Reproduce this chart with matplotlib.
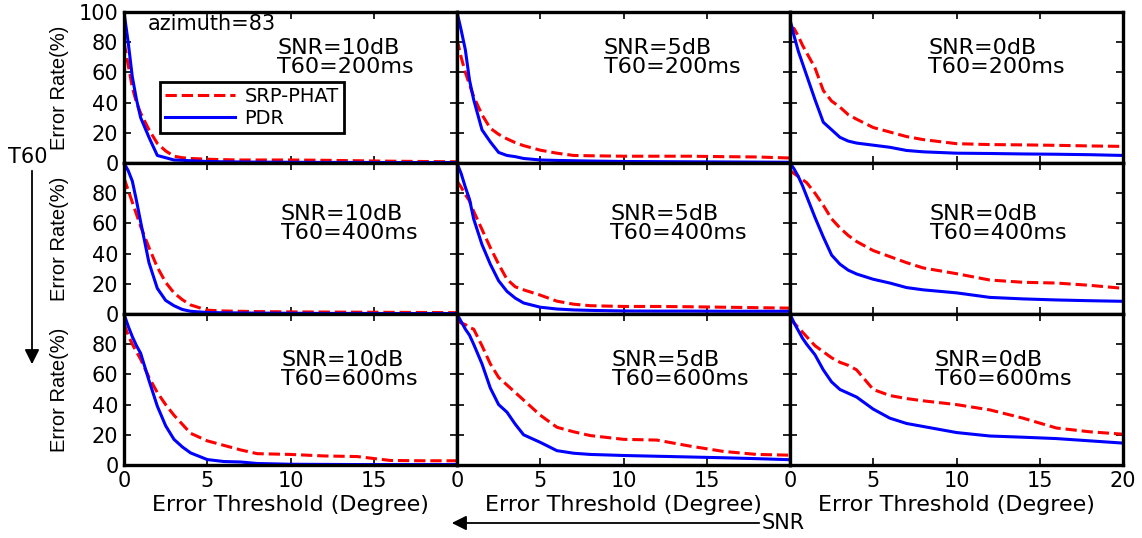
import matplotlib
matplotlib.use('Agg')
import matplotlib.pyplot as plt

# error threshold (degree), common grid for all curves
threshold = [0, 0.25, 0.5, 0.75, 1, 1.5, 2, 2.5, 3, 3.5, 4, 5, 6, 7, 8, 10, 12, 14, 16, 18, 20]

snr_labels = ['10dB', '5dB', '0dB']
t60_labels = ['200ms', '400ms', '600ms']

# T60 = 200ms
pdr_200 = [
    [100, 80, 57, 42, 30, 17, 5, 3.5, 2, 1.8, 1.5, 1, 0.8, 0.7, 0.6, 0.5, 0.4, 0.4, 0.3, 0.3, 0.3],
    [100, 88, 75, 55, 42, 22, 14, 7, 5, 4.2, 3, 2, 1.7, 1.5, 1.3, 1, 0.9, 0.8, 0.7, 0.6, 0.5],
    [95, 84, 74, 66, 58, 42, 27, 22, 17, 14.5, 13.2, 11.8, 10.4, 8.3, 7.4, 6.5, 6.3, 6, 5.8, 5.5, 5],
]
srp_200 = [
    [80, 65, 50, 40, 33, 22, 13, 8, 4.5, 3.5, 3, 2.5, 2.2, 2, 2, 2, 1.8, 1.5, 1.2, 1, 0.8],
    [82, 70, 60, 52, 44, 32, 23, 19, 16, 13.5, 11.5, 8.5, 6.5, 5, 4.8, 4.5, 4.5, 4.5, 4.2, 4, 3.3],
    [90, 89, 84, 78, 73, 63, 48, 41, 37, 32, 29, 23.5, 20.5, 17.5, 15.5, 12.8, 12.2, 12, 11.7, 11.3, 11],
]
# T60 = 400ms
pdr_400 = [
    [100, 95, 88, 75, 61, 34, 17, 9, 5.5, 3, 1.8, 1, 0.8, 0.7, 0.6, 0.5, 0.4, 0.4, 0.3, 0.3, 0.3],
    [100, 93, 84, 76, 63, 46, 33, 22, 15, 10.5, 7.3, 4.5, 3.3, 2.7, 2.4, 2, 1.9, 1.9, 1.8, 1.8, 1.8],
    [100, 96, 91, 85, 78, 64, 51, 39, 33, 29, 26.5, 23, 20.5, 17.5, 16, 14, 11, 10, 9.3, 8.8, 8.4],
]
srp_400 = [
    [90, 82, 74, 66, 58, 44, 31, 21, 14, 9.5, 6, 2.5, 2, 1.8, 1.6, 1.4, 1.3, 1.2, 1.1, 1, 0.9],
    [88, 84, 79, 75, 68, 56, 44, 33, 23, 18, 16, 12.5, 8.5, 6.5, 5.5, 5, 5, 4.8, 4.5, 4.2, 3.9],
    [95, 93, 91, 89, 87, 80, 72, 63, 57, 52, 48, 42, 38, 34, 30.5, 26.7, 22.5, 21, 20.5, 19, 17],
]
# T60 = 600ms
pdr_600 = [
    [100, 92, 85, 79, 74, 56, 39, 26, 17, 12, 8, 3.6, 2.3, 2, 1, 0.5, 0.4, 0.3, 0.3, 0.3, 0.3],
    [100, 95, 90, 86, 80, 67, 51, 40, 35, 27, 20, 15, 9.5, 7.8, 7, 6.3, 5.8, 5.3, 4.8, 4.2, 3.5],
    [100, 94, 89, 84, 80, 73, 63, 55, 50, 47.5, 45, 37, 31, 27.5, 25.5, 21.5, 19.2, 18.4, 17.5, 16, 14.5],
]
srp_600 = [
    [93.5, 86, 80, 75, 70, 58, 48, 40, 33, 27, 21, 16, 13, 10, 7.5, 7, 6, 5.6, 3, 2.8, 2.8],
    [95.7, 94, 93, 91, 90, 79, 67, 58, 53, 48, 43, 33, 25, 22, 19.5, 17, 16.5, 12.5, 9, 7, 6.5],
    [96.8, 94, 91, 88, 85, 79, 75, 71, 68, 66, 63, 50, 46, 44, 42.5, 40, 36.5, 31, 24.5, 22, 20.4],
]

pdr_rows = [pdr_200, pdr_400, pdr_600]
srp_rows = [srp_200, srp_400, srp_600]

# where the condition text sits in each panel (data coords)
text_x = [[9.2, 8.8, 8.3], [9.4, 9.2, 8.4], [9.45, 9.3, 8.7]]
text_y = [70, 60, 63]

W, H = 1142, 538
plt.rcParams['font.family'] = 'DejaVu Sans'
plt.rcParams['font.size'] = 15

fig, axes = plt.subplots(3, 3, figsize=(W / 100, H / 100), dpi=100)
fig.subplots_adjust(left=124 / W, right=1123 / W, top=1 - 12 / H, bottom=1 - 465 / H,
                    wspace=0, hspace=0)

for i in range(3):
    for j in range(3):
        ax = axes[i, j]
        ax.plot(threshold, srp_rows[i][j], color='#ff0000', linestyle='--', linewidth=2.2,
                label='SRP-PHAT')
        ax.plot(threshold, pdr_rows[i][j], color='#0000ff', linewidth=2.2, label='PDR')
        ax.set_xlim(0, 20)
        ax.set_ylim(0, 100)
        for s in ax.spines.values():
            s.set_linewidth(2.4)
        ax.tick_params(direction='in', top=True, right=True, length=5, width=1.2,
                       labelsize=15, pad=4)
        ax.set_xticks([0, 5, 10, 15, 20])
        ax.set_yticks([0, 20, 40, 60, 80, 100])
        if i == 2:
            ax.set_xticklabels(['0', '5', '10', '15', '20' if j == 2 else ''])
            ax.set_xlabel('Error Threshold (Degree)', fontsize=16)
            ax.xaxis.set_label_coords(0.5, -0.2)
        else:
            ax.set_xticklabels([])
        if j == 0:
            ax.set_yticklabels(['0', '20', '40', '60', '80', '100' if i == 0 else ''])
            ax.set_ylabel('Error Rate(%)', family='Liberation Sans', fontsize=14.5)
            ax.yaxis.set_label_coords(-0.165, 0.5)
        else:
            ax.set_yticklabels([])
        ax.text(text_x[i][j], text_y[i],
                'SNR=' + snr_labels[j] + '\nT60=' + t60_labels[i],
                fontsize=16, ha='left', va='center', linespacing=0.95)

axes[0, 0].text(1.44, 92, 'azimuth=83', fontsize=15, ha='left', va='center')
leg = axes[0, 0].legend(loc='upper left', bbox_to_anchor=(0.108, 0.535), fontsize=14,
                        handlelength=3.6, handletextpad=0.5, borderpad=0.25,
                        labelspacing=0.15, borderaxespad=0, fancybox=False,
                        framealpha=1, edgecolor='black')
leg.get_frame().set_linewidth(2)

# T60 arrow on the left
fig.text(28 / W, 1 - 157 / H, 'T60', fontsize=15, ha='center', va='center')
fig.add_artist(matplotlib.patches.FancyArrowPatch(
    (32 / W, 1 - 168 / H), (32 / W, 1 - 367 / H), transform=fig.transFigure,
    arrowstyle='-|>', mutation_scale=22, linewidth=1.3, color='black'))

# SNR arrow at the bottom
fig.text(762 / W, 1 - 523 / H, 'SNR', fontsize=15, ha='left', va='center')
fig.add_artist(matplotlib.patches.FancyArrowPatch(
    (762 / W, 1 - 523 / H), (449 / W, 1 - 523 / H), transform=fig.transFigure,
    arrowstyle='-|>', mutation_scale=22, linewidth=1.3, color='black'))

fig.savefig('out.png', dpi=100)
